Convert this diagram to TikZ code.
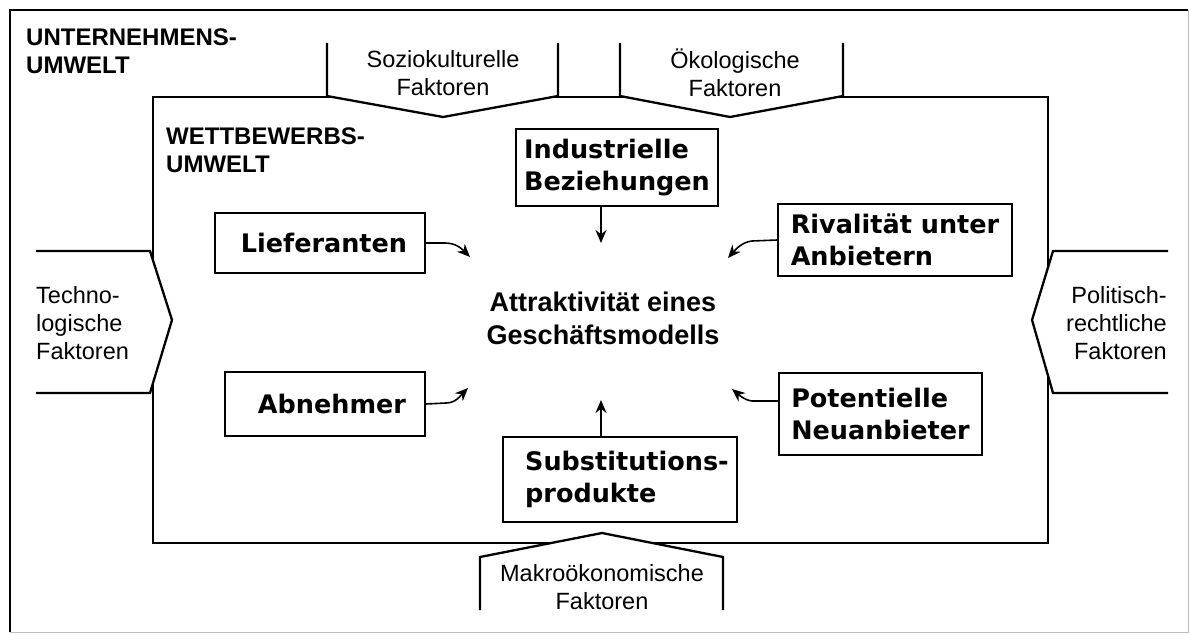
\documentclass[tikz,border=0pt]{standalone}
\usepackage{fontspec}
\setmainfont{Liberation Sans}
\newfontfamily\boxfont{DejaVu Sans}
\usetikzlibrary{arrows.meta}
\begin{document}
\begin{tikzpicture}[x=1pt,y=-1pt,
  frame/.style={line width=2.3pt, line join=miter},
  factor/.style={frame, fill=white},
  factortext/.style={font=\fontsize{23.5}{28}\selectfont, align=center, inner sep=0pt},
  heading/.style={font=\fontsize{24}{28}\selectfont\bfseries, align=left, inner sep=0pt, anchor=west},
  force/.style={draw, line width=1.6pt, fill=white, align=left, inner sep=0pt,
    font=\boxfont\bfseries\fontsize{25.5}{32}\selectfont},
  flow/.style={line width=1.6pt, -{Stealth[length=13pt,width=11pt]}}
]
\useasboundingbox (0,0) rectangle (1190,634);

% outer frame: company environment
\draw[frame] (10,632) -- (10,10) -- (1188,10);
\draw[line width=1pt, black!25] (1188,10) -- (1188,632) -- (10,632);

% inner frame: competitive environment
\draw[frame] (153,97) rectangle (1048,543);

% environmental factors pressing on the inner frame
\draw[factor] (327,43) -- (327,96) -- (443,117) -- (558,96) -- (558,43);
\draw[factor] (620,43) -- (620,96) -- (730,117) -- (843,96) -- (843,43);
\draw[factor] (36,251) -- (150,251) -- (172,320) -- (150,393) -- (36,393);
\draw[factor] (1168,251) -- (1053,251) -- (1032,320) -- (1053,393) -- (1168,393);
\draw[factor] (480,610) -- (480,557) -- (602,533) -- (723,557) -- (723,610);

\node[factortext] (sozio) at (443,73) {Soziokulturelle\\Faktoren};
\node[factortext] (oeko) at (735,73) {Ökologische\\Faktoren};
\node[factortext, align=left, anchor=west] (tech) at (36,323) {Techno-\\logische\\Faktoren};
\node[factortext, align=right, anchor=east] (polit) at (1167,323) {Politisch-\\rechtliche\\Faktoren};
\node[factortext] (makro) at (602,587) {Makroökonomische\\Faktoren};

% headings
\node[heading] (unt) at (26,51) {UNTERNEHMENS-\\UMWELT};
\node[heading] (wett) at (166,150) {WETTBEWERBS-\\UMWELT};

% centre
\node[font=\fontsize{27}{33}\selectfont\bfseries, align=center, inner sep=0pt] (ziel) at (603,318)
  {Attraktivität eines\\Geschäftsmodells};

% competitive forces
\node[force, minimum width=202pt, minimum height=77pt] (ind) at (617,167.5) {Industrielle\\Beziehungen};
\node[force, minimum width=210pt, minimum height=60pt] (lief) at (320,243) {\hspace*{8pt}Lieferanten};
\node[force, minimum width=200pt, minimum height=64pt] (abn) at (325,404) {\hspace*{14pt}Abnehmer};
\node[force, minimum width=234pt, minimum height=72pt] (riv) at (895,240) {Rivalität unter\\Anbietern};
\node[force, minimum width=203pt, minimum height=82pt] (pot) at (880.5,414) {Potentielle\\Neuanbieter};
\node[force, minimum width=234pt, minimum height=85pt] (sub) at (620,479.5) {\hspace*{14pt}Substitutions-\\\hspace*{14pt}produkte};

% arrow tips around the centre
\coordinate (tL) at (470,257);
\coordinate (tA) at (468,388);
\coordinate (tI) at (601,243);
\coordinate (tR) at (728,258);
\coordinate (tP) at (732,389);
\coordinate (tS) at (601,400);

\draw[flow] (lief.east) -- (445,243) .. controls (456,243) and (462,249) .. (tL);
\draw[flow] (abn.east) -- (446,403) .. controls (456,403) and (461,395) .. (tA);
\draw[flow] (ind.south -| tI) -- (tI);
\draw[flow] (riv.west) -- (752,241) .. controls (742,242) and (735,250) .. (tR);
\draw[flow] ([yshift=13pt]pot.west) -- (752,401) .. controls (744,400) and (738,394) .. (tP);
\draw[flow] (sub.north -| tS) -- (tS);
\end{tikzpicture}
\end{document}
